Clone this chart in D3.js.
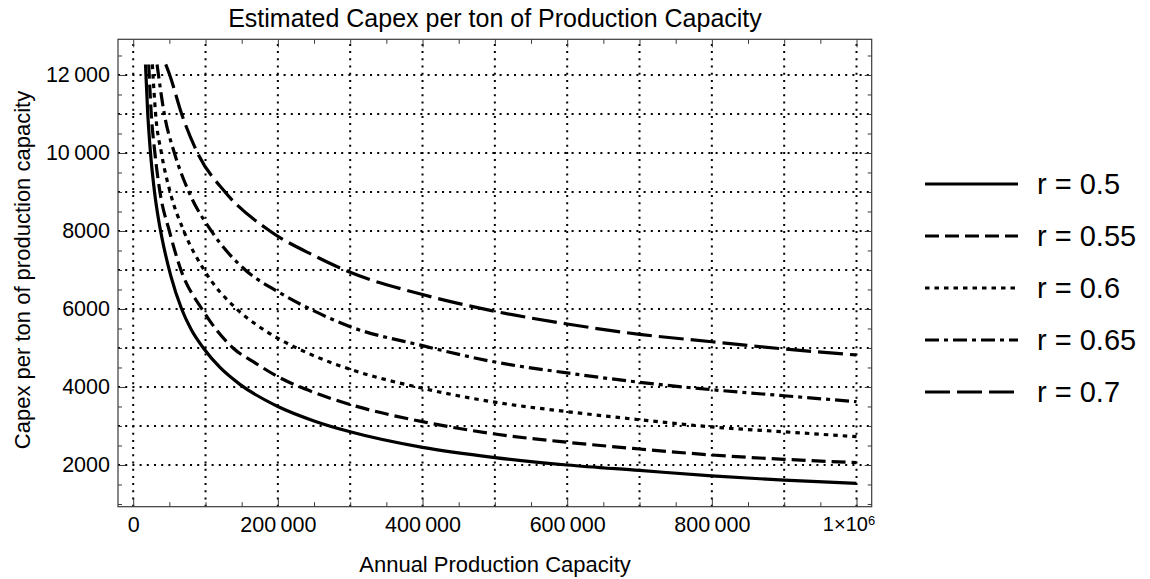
<!DOCTYPE html>
<html>
<head>
<meta charset="utf-8">
<script src="https://cdn.jsdelivr.net/npm/d3@7"></script>
<style>
  html, body { margin: 0; padding: 0; background: #fff; }
  svg { display: block; font-family: "Liberation Sans", Arial, Helvetica, sans-serif; }
</style>
</head>
<body>
<svg id="chart" width="1150" height="579"></svg>
<script>
// ---------------- data ----------------
const title = "Estimated Capex per ton of Production Capacity";
const xLabel = "Annual Production Capacity";
const yLabel = "Capex per ton of production capacity";

const seriesNames = ["r = 0.5", "r = 0.55", "r = 0.6", "r = 0.65", "r = 0.7"];

// [annual capacity, capex per ton]
const capexR050 = [[17000,12270],[20000,11050],[23500,10100],[29500,9000],[35000,8300],[40000,7800],[52000,6850],[67000,6000],[80000,5480],[97000,5000],[120000,4500],[148000,4060],[200000,3500],[250000,3130],[300000,2850],[400000,2450],[500000,2190],[600000,2000],[700000,1860],[800000,1720],[900000,1610],[1000000,1530]];
const capexR055 = [[21500,12270],[25000,11000],[30000,10000],[37000,9000],[50000,8000],[66000,7000],[95000,6000],[138000,5000],[170000,4600],[200000,4264],[250000,3860],[300000,3550],[400000,3110],[500000,2795],[600000,2582],[700000,2410],[800000,2256],[900000,2145],[1000000,2060]];
const capexR060 = [[26500,12270],[31000,11000],[39000,10000],[51000,9000],[70000,8000],[98000,7000],[143000,6000],[170000,5600],[200000,5248],[250000,4800],[300000,4453],[400000,3966],[500000,3610],[600000,3367],[700000,3160],[800000,2975],[900000,2850],[1000000,2726]];
const capexR065 = [[33000,12270],[43000,11000],[57000,10000],[77000,9000],[108000,8000],[155000,7000],[200000,6444],[250000,5950],[300000,5546],[400000,5059],[500000,4640],[600000,4360],[700000,4120],[800000,3930],[900000,3775],[1000000,3623]];
const capexR070 = [[45000,12270],[50500,12000],[67000,11000],[89000,10000],[127000,9000],[189000,8000],[250000,7370],[300000,6940],[400000,6370],[500000,5940],[600000,5615],[700000,5350],[800000,5160],[900000,4975],[1000000,4820]];

const seriesData = [capexR050, capexR055, capexR060, capexR065, capexR070];

const xMajorTicks = [0, 200000, 400000, 600000, 800000, 1000000];
const xTickLabels = ["0", "200\u2009000", "400\u2009000", "600\u2009000", "800\u2009000", "1×10^6"];
const xGridValues = [0, 100000, 200000, 300000, 400000, 500000, 600000, 700000, 800000, 900000, 1000000];
const yMajorTicks = [2000, 4000, 6000, 8000, 10000, 12000];
const yTickLabels = ["2000", "4000", "6000", "8000", "10\u2009000", "12\u2009000"];
const yGridValues = [2000, 3000, 4000, 5000, 6000, 7000, 8000, 9000, 10000, 11000, 12000];

// ---------------- layout / styles ----------------
const frame = { left: 118, right: 871.7, top: 39.3, bottom: 506.7 };
const dashes = ["", "14,6", "4.5,5", "14,5,4,5", "25,7"];
const frameColor = "#3a3a3a";
const fontFamily = "Liberation Sans, Arial, sans-serif";

const svg = d3.select("#chart");

const x = d3.scaleLinear().domain([-21000, 1021000]).range([frame.left, frame.right]);
const y = d3.scaleLinear().domain([930, 12915]).range([frame.bottom, frame.top]);

// grid lines
const grid = svg.append("g").attr("stroke", "#000").attr("stroke-width", 2)
  .attr("stroke-dasharray", "2,5.2").attr("fill", "none");
grid.selectAll("line.gx").data(xGridValues).join("line").attr("class", "gx")
  .attr("x1", d => x(d)).attr("x2", d => x(d))
  .attr("y1", frame.bottom).attr("y2", frame.top);
grid.selectAll("line.gy").data(yGridValues).join("line").attr("class", "gy")
  .attr("x1", frame.left).attr("x2", frame.right)
  .attr("y1", d => y(d)).attr("y2", d => y(d));

// axes (ticks inward on all four sides)
const xMinor = d3.range(0, 1000001, 50000).filter(v => !xMajorTicks.includes(v));
const yMinor = d3.range(1000, 12501, 500).filter(v => !yMajorTicks.includes(v));

function styleAxis(g) {
  g.select(".domain").remove();
  g.selectAll(".tick line").attr("stroke", frameColor).attr("stroke-width", 1);
}

const bottomMajor = svg.append("g").attr("transform", `translate(0,${frame.bottom})`)
  .call(d3.axisBottom(x).tickValues(xMajorTicks).tickSizeInner(-8).tickSizeOuter(0).tickPadding(10)
    .tickFormat((d, i) => xTickLabels[i]));
styleAxis(bottomMajor);
bottomMajor.selectAll(".tick text").attr("font-size", 21.5).attr("fill", "#000")
  .attr("font-family", fontFamily);
// superscript for 1×10^6
bottomMajor.selectAll(".tick text").filter((d, i) => xTickLabels[i].includes("^"))
  .each(function () {
    const t = d3.select(this);
    const parts = t.text().split("^");
    t.text(null).attr("font-size", 20).attr("dx", -8);
    t.append("tspan").text(parts[0]);
    t.append("tspan").attr("dy", "-0.45em").attr("font-size", 13).text(parts[1]);
  });
svg.append("g").attr("transform", `translate(0,${frame.bottom})`)
  .call(d3.axisBottom(x).tickValues(xMinor).tickSizeInner(-4.5).tickSizeOuter(0).tickFormat(""))
  .call(styleAxis);

svg.append("g").attr("transform", `translate(0,${frame.top})`)
  .call(d3.axisTop(x).tickValues(xMajorTicks).tickSizeInner(-8).tickSizeOuter(0).tickFormat(""))
  .call(styleAxis);
svg.append("g").attr("transform", `translate(0,${frame.top})`)
  .call(d3.axisTop(x).tickValues(xMinor).tickSizeInner(-4.5).tickSizeOuter(0).tickFormat(""))
  .call(styleAxis);

const leftMajor = svg.append("g").attr("transform", `translate(${frame.left},0)`)
  .call(d3.axisLeft(y).tickValues(yMajorTicks).tickSizeInner(-7).tickSizeOuter(0).tickPadding(8)
    .tickFormat((d, i) => yTickLabels[i]));
styleAxis(leftMajor);
leftMajor.selectAll(".tick text").attr("font-size", 21.5).attr("fill", "#000")
  .attr("font-family", fontFamily);
svg.append("g").attr("transform", `translate(${frame.left},0)`)
  .call(d3.axisLeft(y).tickValues(yMinor).tickSizeInner(-4).tickSizeOuter(0).tickFormat(""))
  .call(styleAxis);
svg.append("g").attr("transform", `translate(${frame.right},0)`)
  .call(d3.axisRight(y).tickValues(yMajorTicks).tickSizeInner(-7).tickSizeOuter(0).tickFormat(""))
  .call(styleAxis);
svg.append("g").attr("transform", `translate(${frame.right},0)`)
  .call(d3.axisRight(y).tickValues(yMinor).tickSizeInner(-4).tickSizeOuter(0).tickFormat(""))
  .call(styleAxis);

// frame
svg.append("rect")
  .attr("x", frame.left).attr("y", frame.top)
  .attr("width", frame.right - frame.left).attr("height", frame.bottom - frame.top)
  .attr("fill", "none").attr("stroke", frameColor).attr("stroke-width", 1.2);

// curves
svg.append("defs").append("clipPath").attr("id", "plotClip").append("rect")
  .attr("x", frame.left).attr("y", frame.top)
  .attr("width", frame.right - frame.left).attr("height", frame.bottom - frame.top);

const line = d3.line().x(d => x(d[0])).y(d => y(d[1])).curve(d3.curveMonotoneX);
svg.append("g").attr("clip-path", "url(#plotClip)")
  .selectAll("path").data(seriesData).join("path")
  .attr("d", line)
  .attr("fill", "none").attr("stroke", "#000").attr("stroke-width", 3.2)
  .attr("stroke-dasharray", (d, i) => dashes[i] || null);

// title & axis labels
svg.append("text").attr("x", 495).attr("y", 27).attr("text-anchor", "middle")
  .attr("font-size", 25).attr("fill", "#000").text(title);
svg.append("text").attr("x", 495).attr("y", 572).attr("text-anchor", "middle")
  .attr("font-size", 22).attr("fill", "#000").text(xLabel);
svg.append("text").attr("transform", "translate(30,270) rotate(-90)").attr("text-anchor", "middle")
  .attr("font-size", 22).attr("fill", "#000").text(yLabel);

// legend
const legendY = d3.scalePoint().domain(seriesNames).range([184, 392]);
const lg = svg.append("g");
const items = lg.selectAll("g").data(seriesNames).join("g")
  .attr("transform", d => `translate(0,${legendY(d)})`);
items.append("line").attr("x1", 925).attr("x2", 1018).attr("y1", 0).attr("y2", 0)
  .attr("stroke", "#000").attr("stroke-width", 3.2)
  .attr("stroke-dasharray", (d, i) => dashes[i] || null);
items.append("text").attr("x", 1037).attr("y", 10).attr("font-size", 29).attr("fill", "#000")
  .text(d => d);
</script>
</body>
</html>
